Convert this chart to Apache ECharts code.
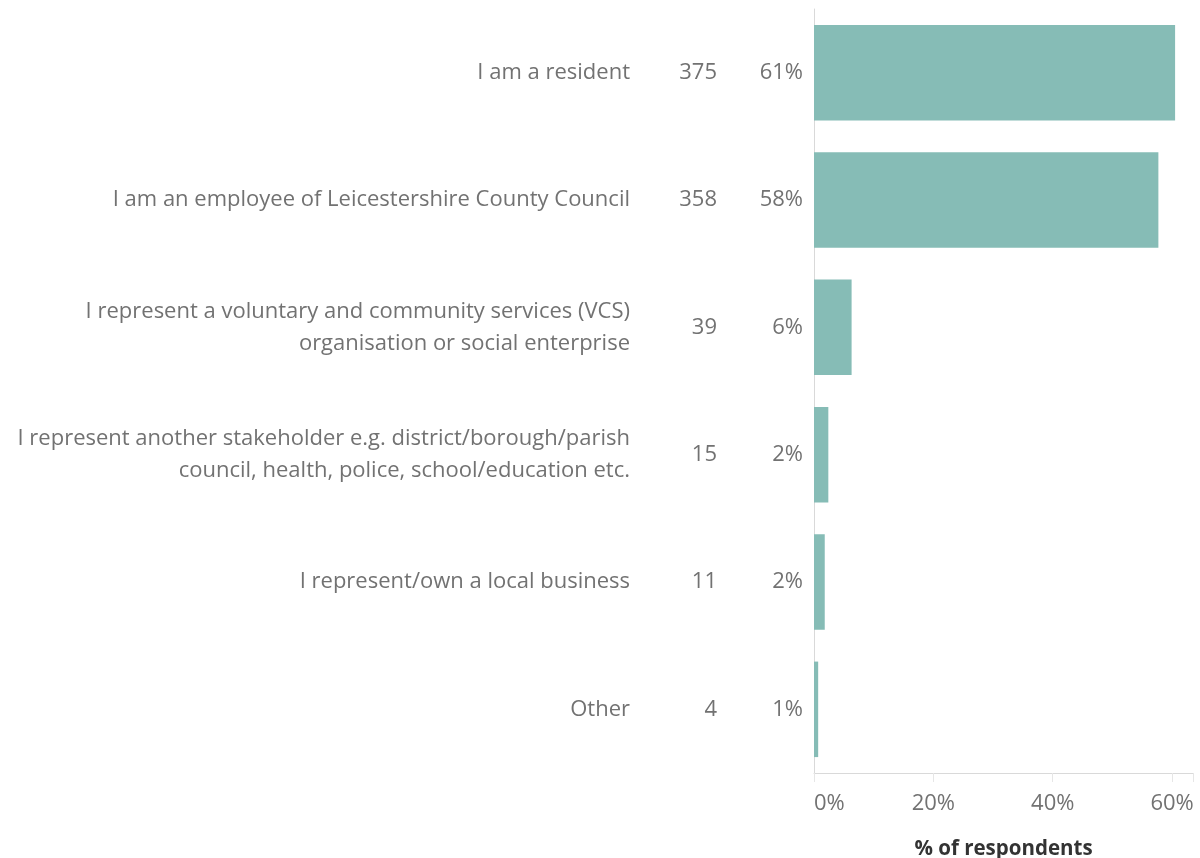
<!DOCTYPE html>
<html>
<head>
<meta charset="utf-8">
<script src="https://cdn.jsdelivr.net/npm/echarts@6/dist/echarts.min.js"></script>
<style>
  html, body { margin: 0; padding: 0; background: #fff; }
  #chart { width: 1200px; height: 858px; }
</style>
</head>
<body>
<div id="chart"></div>
<script>
// data
var categories = [
  'I am a resident',
  'I am an employee of Leicestershire County Council',
  'I represent a voluntary and community services (VCS)\norganisation or social enterprise',
  'I represent another stakeholder e.g. district/borough/parish\ncouncil, health, police, school/education etc.',
  'I represent/own a local business',
  'Other'
];
var counts = [375, 358, 39, 15, 11, 4];
var shares = [0.605, 0.577, 0.063, 0.024, 0.018, 0.007];
var shareLabels = ['61%', '58%', '6%', '2%', '2%', '1%'];
var xTicks = [0, 0.2, 0.4, 0.6];

var font = '"Open Sans", sans-serif';
var grey = '#727272';

var chart = echarts.init(document.getElementById('chart'));

// three category axes stacked on the left: share, count, category text
function labelAxis(data, margin, showLine) {
  return {
    type: 'category',
    position: 'left',
    inverse: true,
    data: data,
    axisLine: { show: showLine, lineStyle: { color: '#d9d9d9', width: 1 } },
    axisTick: { show: false },
    axisLabel: {
      margin: margin,
      color: grey,
      fontFamily: font,
      fontSize: 22,
      lineHeight: 32,
      align: 'right',
      padding: [4, 0, 0, 0]
    }
  };
}

var option = {
  animation: false,
  grid: { left: 814, right: 7, top: 9, bottom: 85, containLabel: false, outerBoundsMode: 'none' },
  xAxis: {
    type: 'value',
    min: 0,
    max: 0.635,
    interval: 0.2,
    name: '% of respondents',
    nameLocation: 'middle',
    nameGap: 66,
    nameTextStyle: { color: '#333', fontFamily: font, fontSize: 20.5, fontWeight: 'bold' },
    axisLine: { show: true, lineStyle: { color: '#d9d9d9' } },
    axisTick: { show: true, length: 9, lineStyle: { color: '#e6e6e6' } },
    splitLine: { show: false },
    axisLabel: {
      margin: 20,
      color: grey,
      fontFamily: font,
      fontSize: 22,
      alignMinLabel: 'left',
      customValues: xTicks,
      formatter: function (v) { return Math.round(v * 100) + '%'; }
    }
  },
  yAxis: [
    labelAxis(shareLabels, 11, true),
    labelAxis(counts.map(String), 97, false),
    labelAxis(categories, 184, false)
  ],
  series: [{
    type: 'bar',
    yAxisIndex: 0,
    data: shares,
    barCategoryGap: '25%',
    itemStyle: { color: '#86bcb6' },
    silent: true
  }]
};

chart.setOption(option);
</script>
</body>
</html>
